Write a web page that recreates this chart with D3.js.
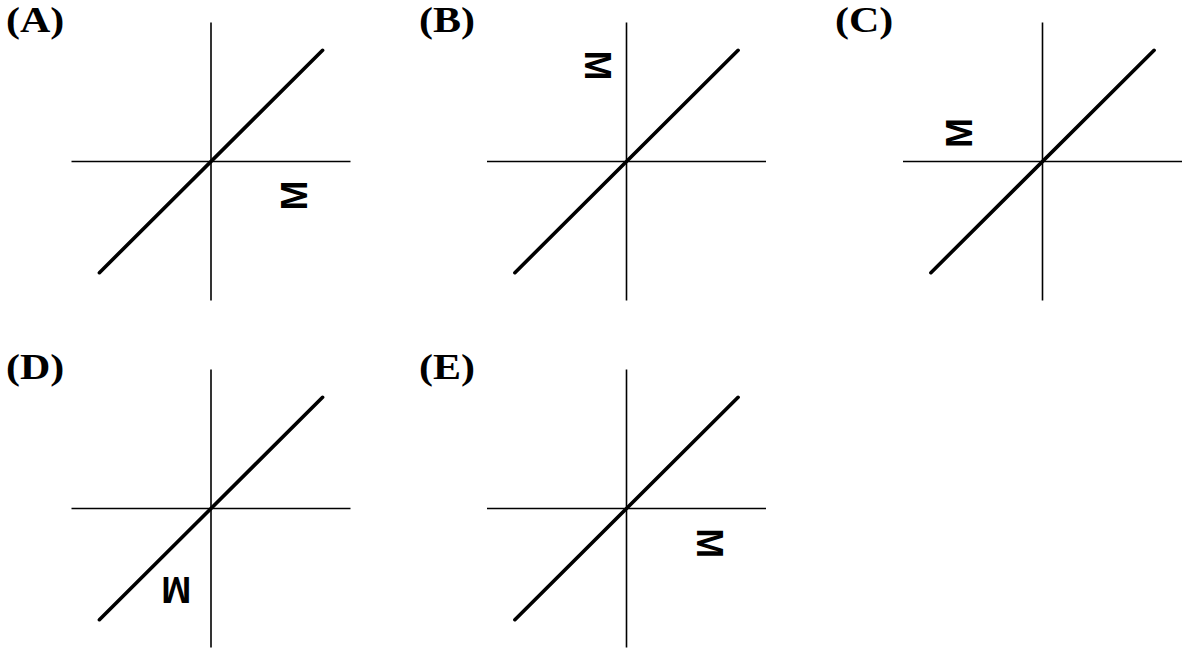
<!DOCTYPE html>
<html><head><meta charset="utf-8">
<script src="https://cdn.jsdelivr.net/npm/d3@7"></script>
<style>body{margin:0;background:#fff}</style>
</head><body>
<svg id="chart" width="1184" height="650"></svg>
<script>
// Panel data
const panelLabels = ["(A)", "(B)", "(C)", "(D)", "(E)"];
const lineStart = [-0.8, -0.8];   // line y = x, data units
const lineEnd = [0.8, 0.8];
const glyphText = "M";
const glyphX = [0.595, -0.205, -0.595, -0.25, 0.595];
const glyphY = [-0.245, 0.69, 0.205, -0.585, -0.25];
const glyphRotation = [-90, 90, -90, 180, 90];

const svg = d3.select("#chart");
const colCenters = [211.5, 627, 1043];
const rowCenters = [161.5, 508.5];
const labelX = [6, 419, 835];
const labelY = [32, 379];

panelLabels.forEach((lab, i) => {
  const col = i % 3, row = Math.floor(i / 3);
  const ox = colCenters[col], oy = rowCenters[row];
  const x = d3.scaleLinear().domain([-1, 1]).range([ox - 140, ox + 139]);
  const y = d3.scaleLinear().domain([-1, 1]).range([oy + 139, oy - 139]);
  const g = svg.append("g");
  // axes
  g.append("line").attr("x1", x(-1)).attr("x2", x(1)).attr("y1", y(0)).attr("y2", y(0))
    .attr("stroke", "#000").attr("stroke-width", 1.6);
  g.append("line").attr("x1", x(0)).attr("x2", x(0)).attr("y1", y(-1)).attr("y2", y(1))
    .attr("stroke", "#000").attr("stroke-width", 1.6);
  // line y=x
  g.append("line").attr("x1", x(lineStart[0])).attr("y1", y(lineStart[1]))
    .attr("x2", x(lineEnd[0])).attr("y2", y(lineEnd[1]))
    .attr("stroke", "#000").attr("stroke-width", 3.6).attr("stroke-linecap", "round");
  // glyph
  g.append("text").text(glyphText)
    .attr("transform", `translate(${x(glyphX[i])},${y(glyphY[i])}) rotate(${glyphRotation[i]})`)
    .attr("text-anchor", "middle").attr("dy", "0.358em")
    .attr("font-family", "Liberation Sans, Arial, sans-serif").attr("font-weight", "bold")
    .attr("font-size", 36).attr("fill", "#000");
  // label
  svg.append("text").text(lab)
    .attr("transform", `translate(${labelX[col]},${labelY[row]}) scale(1.2,1)`)
    .attr("font-family", "Liberation Serif, Times New Roman, serif").attr("font-weight", "bold")
    .attr("font-size", 35).attr("fill", "#000");
});
</script>
</body></html>
